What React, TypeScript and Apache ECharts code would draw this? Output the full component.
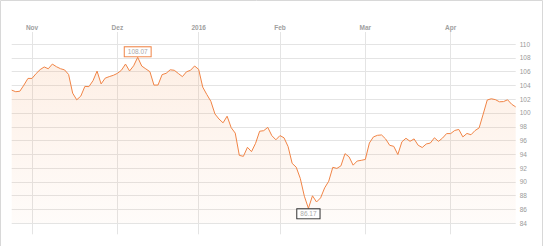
import React, { useEffect, useRef } from "react";
import * as echarts from "echarts";

// Trading-day calendar (Xetra), 2015-10-26 .. 2016-04-25
const startDate = "2015-10-26";
const endDate = "2016-04-25";
const holidays = ["2015-12-24", "2015-12-25", "2015-12-31", "2016-01-01", "2016-03-25", "2016-03-28"];
const monthLabels = ["2016", "Feb", "Mar", "Apr", "Mai", "Jun", "Jul", "Aug", "Sep", "Okt", "Nov", "Dez"];

const prices = [
  103.31, 103.08, 103.15, 104.04, 105.01, 105.01, 105.71, 106.29, 106.67, 106.41,
  107.09, 106.71, 106.42, 106.25, 105.58, 102.87, 101.91, 102.44, 103.85, 103.82,
  104.68, 106.07, 104.21, 105.05, 105.27, 105.46, 105.74, 106.2, 107.09, 106.09,
  106.84, 108.07, 106.8, 106.39, 105.99, 104.04, 104.05, 105.56, 105.75, 106.26,
  106.19, 105.72, 105.27, 105.97, 106.19, 106.81, 106.32, 103.75, 102.68, 101.69,
  99.86, 99.12, 98.57, 99.53, 97.87, 97.08, 93.85, 93.71, 95.02, 94.39,
  95.6, 97.35, 97.43, 97.91, 96.71, 96.11, 96.72, 96.4, 95.13, 92.69,
  92.14, 90.51, 87.93, 86.17, 87.99, 87.09, 87.69, 89.14, 90.1, 92.12,
  91.96, 92.33, 94.1, 93.64, 92.43, 93.03, 93.13, 93.26, 95.64, 96.53,
  96.76, 96.81, 96.23, 95.31, 95.16, 93.97, 95.82, 96.33, 95.89, 96.24,
  95.32, 94.99, 95.5, 95.64, 96.4, 95.88, 96.36, 97.01, 97.01, 97.46,
  97.61, 96.53, 97.03, 96.84, 97.45, 97.83, 99.83, 101.88, 102.06, 101.93,
  101.62, 101.65, 101.91, 101.27, 100.88,
];

const yMin = 84;
const yMax = 110;
const yStep = 2;

function tradingDays(): string[] {
  const out: string[] = [];
  const d = new Date(startDate + "T00:00:00Z");
  const end = new Date(endDate + "T00:00:00Z");
  while (d.getTime() <= end.getTime()) {
    const s = d.toISOString().slice(0, 10);
    const wd = d.getUTCDay();
    if (wd !== 0 && wd !== 6 && holidays.indexOf(s) < 0) out.push(s);
    d.setUTCDate(d.getUTCDate() + 1);
  }
  return out;
}

export default function App() {
  const ref = useRef<HTMLDivElement>(null);
  useEffect(() => {
    if (!ref.current) return;
    const chart = echarts.init(ref.current, null, { renderer: "svg" });
    const dates = tradingDays();
    const isMonthStart = (i: number) => i > 0 && i < dates.length && dates[i].slice(5, 7) !== dates[i - 1].slice(5, 7);
    const gridColor = "#e4e4e4";
    const font = "Liberation Sans, Arial, sans-serif";
    chart.setOption({
      animation: false,
      graphic: [
        {
          type: "rect",
          shape: { x: 0.5, y: 0.5, width: 542, height: 260 },
          style: { fill: "none", stroke: "#d8d8d8", lineWidth: 1 },
          silent: true,
        },
      ],
      grid: { left: 11.7, right: 29.3, top: 44, bottom: 22.7 },
      xAxis: [
        {
          type: "category",
          data: dates,
          position: "top",
          boundaryGap: false,
          axisLine: { show: false },
          axisTick: {
            show: true,
            length: 12,
            interval: (i: number) => isMonthStart(i),
            lineStyle: { color: gridColor },
          },
          axisLabel: {
            interval: (i: number) => isMonthStart(i),
            margin: 13,
            color: "#a0a0a0",
            fontSize: 6.5,
            fontWeight: "bold",
            fontFamily: font,
            formatter: (v: string) => monthLabels[(parseInt(v.slice(5, 7), 10) - 1)],
          },
          splitLine: {
            show: true,
            interval: (i: number) => isMonthStart(i),
            lineStyle: { color: gridColor },
          },
        },
        {
          type: "category",
          data: dates,
          position: "bottom",
          boundaryGap: false,
          axisLine: { show: false },
          axisTick: {
            show: true,
            length: 11,
            interval: (i: number) => isMonthStart(i),
            lineStyle: { color: gridColor },
          },
          axisLabel: { show: false },
          splitLine: { show: false },
        },
      ],
      yAxis: {
        type: "value",
        position: "right",
        min: yMin,
        max: yMax,
        interval: yStep,
        axisLine: { show: false },
        axisTick: { show: false },
        axisLabel: { margin: 4, color: "#999", fontSize: 6.5, fontFamily: font },
        splitLine: { lineStyle: { color: gridColor } },
      },
      series: [
        {
          type: "line",
          xAxisIndex: 0,
          data: prices,
          showSymbol: false,
          symbol: "none",
          lineStyle: { color: "#f08446", width: 1 },
          areaStyle: {
            color: new echarts.graphic.LinearGradient(0, 0, 0, 1, [
              { offset: 0, color: "rgba(246,160,100,0.24)" },
              { offset: 1, color: "rgba(246,160,100,0.05)" },
            ]),
          },
          markPoint: {
            symbol: "circle",
            symbolSize: 0,
            data: [
              {
                type: "max",
                label: {
                  show: true,
                  position: "top",
                  distance: 1,
                  formatter: (p: any) => Number(p.value).toFixed(2),
                  color: "#aaa",
                  fontSize: 6.5,
                  fontFamily: font,
                  backgroundColor: "#fff",
                  borderColor: "#f08446",
                  borderWidth: 1,
                  padding: [1, 3],
                },
              },
              {
                type: "min",
                label: {
                  show: true,
                  position: "bottom",
                  distance: 1,
                  formatter: (p: any) => Number(p.value).toFixed(2),
                  color: "#aaa",
                  fontSize: 6.5,
                  fontFamily: font,
                  backgroundColor: "#fff",
                  borderColor: "#333",
                  borderWidth: 1,
                  padding: [1, 3],
                },
              },
            ],
          },
        },
      ],
    });
    return () => chart.dispose();
  }, []);
  return <div ref={ref} style={{ position: "absolute", left: 0, top: 0, width: 545, height: 246 }} />;
}
